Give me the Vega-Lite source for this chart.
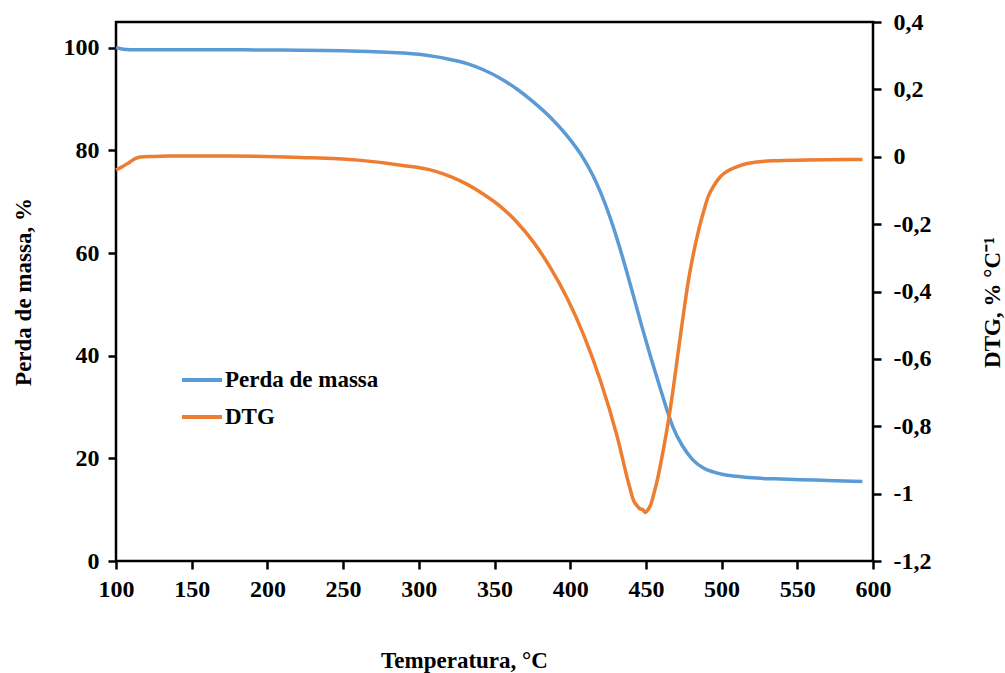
{
  "$schema": "https://vega.github.io/schema/vega-lite/v6.json",
  "autosize": {"type": "none"},
  "padding": {"left": 116, "top": 22, "right": 132, "bottom": 112},
  "width": 757,
  "height": 539,
  "background": "white",
  "config": {
    "font": "Liberation Serif",
    "view": {"stroke": "black", "strokeWidth": 2.5},
    "axis": {
      "labelFont": "Liberation Serif",
      "titleFont": "Liberation Serif",
      "labelFontWeight": "bold",
      "titleFontWeight": "bold",
      "labelFontSize": 24,
      "titleFontSize": 23,
      "labelColor": "black",
      "titleColor": "black",
      "domainColor": "black",
      "tickColor": "black",
      "domainWidth": 2.5,
      "tickWidth": 2.5,
      "tickSize": 8,
      "grid": false,
      "labelFlush": false,
      "labelOverlap": false
    },
    "legend": {
      "labelFont": "Liberation Serif",
      "labelFontWeight": "bold",
      "labelFontSize": 23,
      "labelColor": "black"
    }
  },
  "datasets": {
    "massa": [
      {"T": 100, "m": 100}, {"T": 103, "m": 99.8}, {"T": 107, "m": 99.65}, {"T": 112, "m": 99.6},
      {"T": 150, "m": 99.6}, {"T": 200, "m": 99.55}, {"T": 250, "m": 99.4}, {"T": 275, "m": 99.15},
      {"T": 290, "m": 98.95}, {"T": 300, "m": 98.7}, {"T": 310, "m": 98.3}, {"T": 320, "m": 97.75},
      {"T": 332, "m": 96.9}, {"T": 343, "m": 95.65}, {"T": 354, "m": 94.0}, {"T": 365, "m": 91.9},
      {"T": 375, "m": 89.6}, {"T": 387, "m": 86.4}, {"T": 398, "m": 82.8}, {"T": 409, "m": 78.3},
      {"T": 415, "m": 75.1}, {"T": 420, "m": 71.85}, {"T": 426, "m": 67.2}, {"T": 431, "m": 62.7},
      {"T": 437, "m": 56.7}, {"T": 442, "m": 51.4}, {"T": 447, "m": 46.05}, {"T": 453, "m": 39.9},
      {"T": 459, "m": 34.1}, {"T": 464, "m": 29.35}, {"T": 468, "m": 26.0}, {"T": 474, "m": 22.5},
      {"T": 481, "m": 19.7}, {"T": 488, "m": 18.1}, {"T": 495, "m": 17.3}, {"T": 501, "m": 16.85},
      {"T": 510, "m": 16.5}, {"T": 520, "m": 16.2}, {"T": 535, "m": 16.0}, {"T": 552, "m": 15.85},
      {"T": 575, "m": 15.65}, {"T": 593, "m": 15.5}
    ],
    "dtg": [
      {"T": 100, "d": -0.039}, {"T": 104, "d": -0.03}, {"T": 109, "d": -0.016}, {"T": 113, "d": -0.005},
      {"T": 116, "d": -0.001}, {"T": 125, "d": 0.001}, {"T": 135, "d": 0.002}, {"T": 175, "d": 0.002},
      {"T": 222, "d": -0.002}, {"T": 260, "d": -0.01}, {"T": 288, "d": -0.025}, {"T": 310, "d": -0.042},
      {"T": 321, "d": -0.059}, {"T": 332, "d": -0.082}, {"T": 343, "d": -0.112}, {"T": 354, "d": -0.148},
      {"T": 365, "d": -0.195}, {"T": 376, "d": -0.255}, {"T": 387, "d": -0.33}, {"T": 398, "d": -0.42},
      {"T": 409, "d": -0.53}, {"T": 420, "d": -0.665}, {"T": 431, "d": -0.83}, {"T": 439.5, "d": -0.985},
      {"T": 442, "d": -1.022}, {"T": 444, "d": -1.035}, {"T": 446, "d": -1.045}, {"T": 448, "d": -1.048},
      {"T": 449.5, "d": -1.056}, {"T": 451, "d": -1.05}, {"T": 453, "d": -1.035}, {"T": 455, "d": -1.005},
      {"T": 458, "d": -0.95}, {"T": 461.5, "d": -0.87}, {"T": 465, "d": -0.78}, {"T": 468, "d": -0.69},
      {"T": 471, "d": -0.59}, {"T": 474.7, "d": -0.47}, {"T": 478, "d": -0.37}, {"T": 481.3, "d": -0.29},
      {"T": 485, "d": -0.215}, {"T": 488, "d": -0.165}, {"T": 491, "d": -0.12}, {"T": 494.5, "d": -0.089},
      {"T": 499, "d": -0.06}, {"T": 503.4, "d": -0.044}, {"T": 510, "d": -0.03}, {"T": 517, "d": -0.02},
      {"T": 534, "d": -0.012}, {"T": 556, "d": -0.01}, {"T": 593, "d": -0.008}
    ]
  },
  "layer": [
    {
      "data": {"name": "massa"},
      "mark": {"type": "line", "strokeWidth": 3.5, "interpolate": "monotone"},
      "encoding": {
        "x": {
          "field": "T", "type": "quantitative",
          "scale": {"domain": [100, 600], "nice": false, "zero": false},
          "axis": {
            "title": "Temperatura, °C",
            "titleX": 348,
            "titleAlign": "center",
            "values": [100, 150, 200, 250, 300, 350, 400, 450, 500, 550, 600],
            "labelPadding": 8,
            "titlePadding": 48,
            "domain": false
          }
        },
        "y": {
          "field": "m", "type": "quantitative",
          "scale": {"domain": [0, 105], "nice": false},
          "axis": {
            "title": "Perda de massa, %",
            "values": [0, 20, 40, 60, 80, 100],
            "labelPadding": 9,
            "titlePadding": 28,
            "domain": false
          }
        },
        "color": {
          "datum": "Perda de massa",
          "type": "nominal",
          "scale": {"domain": ["Perda de massa", "DTG"], "range": ["#5B9BD5", "#ED7D31"]},
          "legend": {
            "title": null,
            "orient": "none",
            "legendX": 64,
            "legendY": 336,
            "symbolType": "stroke",
            "symbolSize": 1600,
            "symbolStrokeWidth": 4,
            "rowPadding": 3,
            "labelOffset": 1
          }
        }
      }
    },
    {
      "data": {"name": "dtg"},
      "mark": {"type": "line", "strokeWidth": 3.5, "interpolate": "monotone"},
      "encoding": {
        "x": {"field": "T", "type": "quantitative"},
        "y": {
          "field": "d", "type": "quantitative",
          "scale": {"domain": [-1.2, 0.4], "nice": false, "zero": false},
          "axis": {
            "orient": "right",
            "title": "DTG, % °C⁻¹",
            "titleAngle": -90,
            "titleY": 280,
            "values": [-1.2, -1, -0.8, -0.6, -0.4, -0.2, 0, 0.2, 0.4],
            "labelExpr": "replace(replace(format(datum.value, '.1~f'), '.', ','), '−', '-')",
            "labelPadding": 12,
            "titlePadding": 74,
            "domain": false
          }
        },
        "color": {"datum": "DTG", "type": "nominal"}
      }
    }
  ],
  "resolve": {"scale": {"y": "independent"}}
}
